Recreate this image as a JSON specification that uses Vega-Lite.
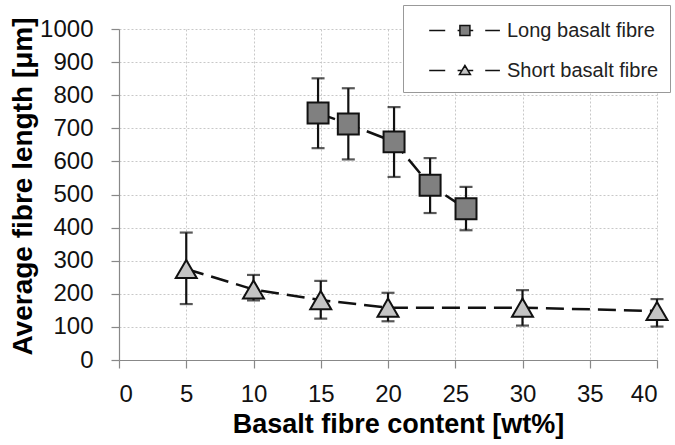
{
  "$schema": "https://vega.github.io/schema/vega-lite/v6.json",
  "autosize": {"type": "none"},
  "padding": {"left": 119, "top": 29, "right": 18, "bottom": 85},
  "width": 538,
  "height": 331,
  "background": "#ffffff",
  "config": {
    "font": "Liberation Sans",
    "view": {"stroke": null},
    "axis": {
      "labelFontSize": 24,
      "labelColor": "#111111",
      "titleFontSize": 27,
      "titleFontWeight": "bold",
      "titleColor": "#000000",
      "domainColor": "#888888",
      "domainWidth": 1.2,
      "tickColor": "#888888",
      "tickSize": 8,
      "tickWidth": 1.2,
      "gridColor": "#c8c8c8",
      "gridDash": [2, 2],
      "gridWidth": 1
    }
  },
  "data": {
    "values": [
      {"content": 14.8, "length": 746, "lo": 640, "hi": 851, "series": "Long basalt fibre"},
      {"content": 17.05, "length": 713, "lo": 606, "hi": 821, "series": "Long basalt fibre"},
      {"content": 20.45, "length": 659, "lo": 553, "hi": 764, "series": "Long basalt fibre"},
      {"content": 23.13, "length": 528, "lo": 444, "hi": 610, "series": "Long basalt fibre"},
      {"content": 25.8, "length": 457, "lo": 392, "hi": 523, "series": "Long basalt fibre"},
      {"content": 5, "length": 275, "lo": 169, "hi": 385, "series": "Short basalt fibre"},
      {"content": 10, "length": 213, "lo": 180, "hi": 257, "series": "Short basalt fibre"},
      {"content": 15, "length": 181, "lo": 125, "hi": 239, "series": "Short basalt fibre"},
      {"content": 20, "length": 158, "lo": 117, "hi": 203, "series": "Short basalt fibre"},
      {"content": 30, "length": 158, "lo": 104, "hi": 211, "series": "Short basalt fibre"},
      {"content": 40, "length": 148, "lo": 101, "hi": 184, "series": "Short basalt fibre"}
    ]
  },
  "encoding": {
    "x": {
      "field": "content",
      "type": "quantitative",
      "scale": {"domain": [0, 40], "nice": false, "zero": true},
      "axis": {
        "title": "Basalt fibre content [wt%]",
        "values": [0, 5, 10, 15, 20, 25, 30, 35, 40],
        "labelPadding": 14,
        "titlePadding": 5,
        "titleX": 279
      }
    },
    "y": {
      "field": "length",
      "type": "quantitative",
      "scale": {"domain": [0, 1000], "nice": false},
      "axis": {
        "title": "Average fibre length [μm]",
        "values": [0, 100, 200, 300, 400, 500, 600, 700, 800, 900, 1000],
        "format": "d",
        "labelPadding": 18,
        "titlePadding": 2,
        "titleFontSize": 28,
        "titleY": 157
      }
    }
  },
  "layer": [
    {
      "mark": {"type": "line", "color": "#111111", "strokeWidth": 2.5, "strokeDash": [18, 8]},
      "encoding": {
        "detail": {"field": "series"}
      }
    },
    {
      "mark": {
        "type": "errorbar",
        "ticks": {"size": 13, "thickness": 2.2, "color": "#111111"},
        "rule": {"strokeWidth": 2.2, "color": "#111111"}
      },
      "encoding": {
        "y": {
          "field": "lo",
          "type": "quantitative",
          "title": "Average fibre length [μm]",
          "axis": {
            "title": "Average fibre length [μm]",
            "values": [0, 100, 200, 300, 400, 500, 600, 700, 800, 900, 1000],
            "format": "d",
            "labelPadding": 18,
            "titlePadding": 2,
            "titleFontSize": 28,
            "titleY": 157
          }
        },
        "y2": {"field": "hi"}
      }
    },
    {
      "mark": {"type": "point", "filled": true, "size": 440, "stroke": "#111111", "strokeWidth": 2, "opacity": 1},
      "encoding": {
        "shape": {
          "field": "series",
          "type": "nominal",
          "scale": {"domain": ["Long basalt fibre", "Short basalt fibre"], "range": ["square", "triangle-up"]},
          "legend": null
        },
        "fill": {
          "field": "series",
          "type": "nominal",
          "scale": {"domain": ["Long basalt fibre", "Short basalt fibre"], "range": ["#808080", "#c4c4c4"]},
          "legend": null
        }
      }
    },
    {
      "transform": [{"filter": "datum.series == 'legend only'"}],
      "mark": {"type": "point", "filled": true, "stroke": "#111111", "strokeWidth": 2, "opacity": 1},
      "encoding": {
        "shape": {
          "field": "series",
          "type": "nominal",
          "scale": {
            "domain": ["Long basalt fibre", "Short basalt fibre"],
            "range": [
              "M0.053,0H1.256M2.188,0H2.361M3.113,0H3.361M4.263,0H5.368M2.361,-0.376H3.113V0.376H2.361Z",
              "M0.053,0H1.256M2.188,0H2.507M2.967,0H3.361M4.263,0H5.368M2.737,-0.376L3.15,0.3H2.324Z"
            ]
          },
          "legend": {
            "orient": "none", "legendX": 284, "legendY": -24, "title": null, "padding": 11,
            "fillColor": "#ffffff", "strokeColor": "#999999", "labelFontSize": 20, "labelColor": "#222222",
            "symbolSize": 708, "labelOffset": 64, "rowPadding": 15, "symbolOpacity": 1
          }
        },
        "fill": {
          "field": "series",
          "type": "nominal",
          "scale": {"domain": ["Long basalt fibre", "Short basalt fibre"], "range": ["#808080", "#c4c4c4"]},
          "legend": {
            "orient": "none", "legendX": 284, "legendY": -24, "title": null, "padding": 11,
            "fillColor": "#ffffff", "strokeColor": "#999999", "labelFontSize": 20, "labelColor": "#222222",
            "symbolSize": 708, "labelOffset": 64, "rowPadding": 15, "symbolOpacity": 1
          }
        }
      }
    }
  ],
  "resolve": {"scale": {"shape": "independent", "fill": "independent"}, "legend": {"shape": "independent", "fill": "independent"}}
}
